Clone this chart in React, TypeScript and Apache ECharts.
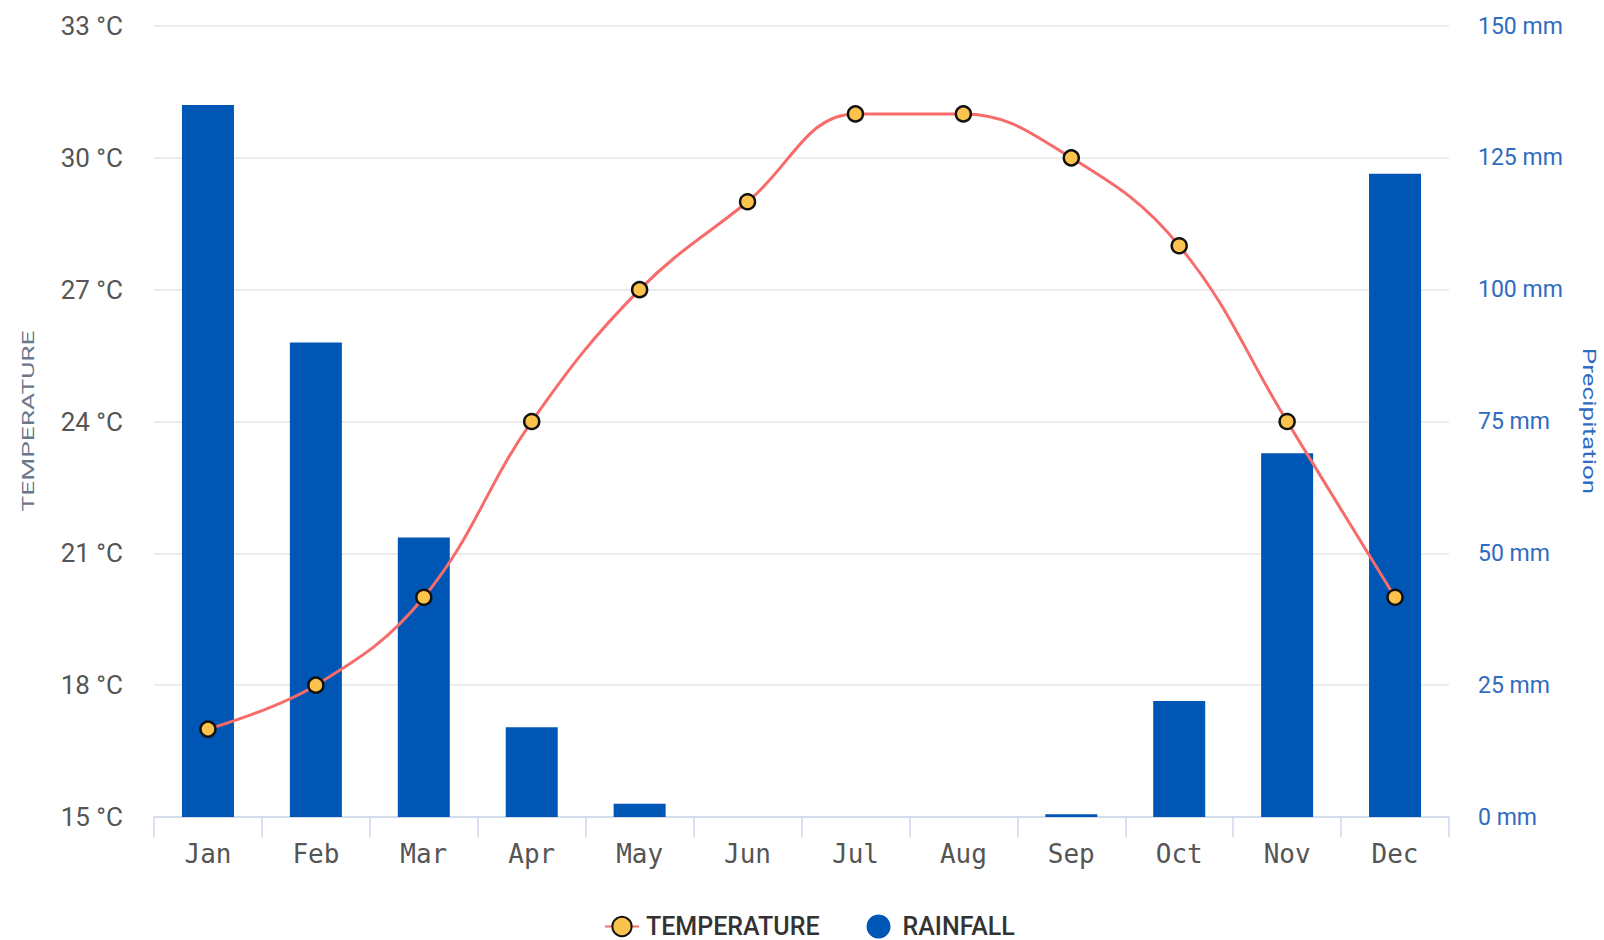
import React, { useEffect, useRef } from "react";
import * as echarts from "echarts";

const months = ["Jan", "Feb", "Mar", "Apr", "May", "Jun", "Jul", "Aug", "Sep", "Oct", "Nov", "Dec"];
const temperature = [17, 18, 20, 24, 27, 29, 31, 31, 30, 28, 24, 20];
const rainfall = [135, 90, 53, 17, 2.5, 0, 0, 0, 0.5, 22, 69, 122];
const leftAxisName = "TEMPERATURE";
const rightAxisName = "Precipitation";

export default function App() {
  const ref = useRef<HTMLDivElement>(null);
  useEffect(() => {
    document.body.style.margin = "0";
    const chart = echarts.init(ref.current!, null, { renderer: "svg" });
    chart.setOption({
      animation: false,
      backgroundColor: "#ffffff",
      grid: { left: 154, right: 155, top: 26, bottom: 123 },
      legend: {
        bottom: 1,
        left: 604,
        padding: 0,
        itemWidth: 34,
        itemHeight: 24,
        itemGap: 47,
        textStyle: {
          fontFamily: "Roboto",
          fontSize: 25,
          lineHeight: 24,
          fontWeight: 500,
          color: "#333333",
          padding: [0, 0, 0, 2],
        },
        data: [
          { name: "TEMPERATURE" },
          { name: "RAINFALL", icon: "circle" },
        ],
      },
      graphic: [
        {
          type: "text",
          x: 28,
          y: 421,
          rotation: Math.PI / 2,
          scaleX: 1.55,
          style: {
            text: leftAxisName,
            fontFamily: "Roboto",
            fontSize: 17,
            fill: "#6a7689",
            align: "center",
            verticalAlign: "middle",
          },
        },
        {
          type: "text",
          x: 1589,
          y: 421,
          rotation: -Math.PI / 2,
          scaleX: 1.37,
          style: {
            text: rightAxisName,
            fontFamily: "Roboto",
            fontSize: 19,
            fill: "#2f6bc1",
            align: "center",
            verticalAlign: "middle",
          },
        },
      ],
      xAxis: {
        type: "category",
        data: months,
        boundaryGap: true,
        axisLine: { lineStyle: { color: "#ccd6eb", width: 1.5 } },
        axisTick: { show: true, length: 20, lineStyle: { color: "#ccd6eb", width: 1.5 } },
        axisLabel: { fontFamily: "DejaVu Sans Mono", fontSize: 26, color: "#555555", margin: 24 },
      },
      yAxis: [
        {
          type: "value",
          min: 15,
          max: 33,
          interval: 3,
          axisLabel: { formatter: "{value} °C", fontFamily: "Roboto", fontSize: 26, color: "#555555", margin: 31 },
          axisLine: { show: false },
          axisTick: { show: false },
          splitLine: { lineStyle: { color: "#e6e6e6", width: 1.5 } },
        },
        {
          type: "value",
          min: 0,
          max: 150,
          interval: 25,
          axisLabel: { formatter: "{value} mm", fontFamily: "Roboto", fontSize: 23, color: "#2f6bc1", margin: 29 },
          axisLine: { show: false },
          axisTick: { show: false },
          splitLine: { show: false },
        },
      ],
      series: [
        {
          name: "RAINFALL",
          type: "bar",
          yAxisIndex: 1,
          data: rainfall,
          barWidth: 52,
          itemStyle: { color: "#0056b4" },
          z: 1,
        },
        {
          name: "TEMPERATURE",
          type: "line",
          yAxisIndex: 0,
          data: temperature,
          smooth: 0.4,
          symbol: "circle",
          symbolSize: 15,
          lineStyle: { color: "#f76b6b", width: 3 },
          itemStyle: { color: "#fbc24c", borderColor: "#111111", borderWidth: 2.5 },
          z: 3,
        },
      ],
    });
    return () => chart.dispose();
  }, []);
  return <div ref={ref} style={{ width: 1604, height: 940 }} />;
}
